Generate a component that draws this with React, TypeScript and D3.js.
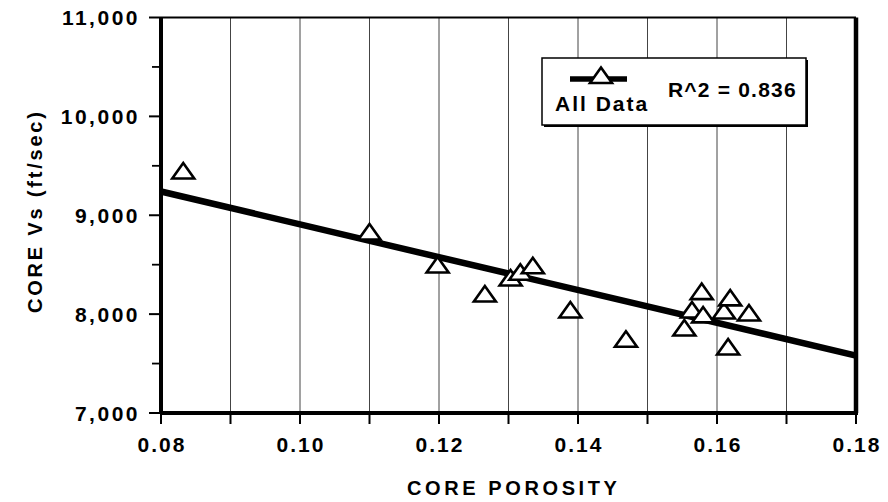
import React from "react";
import * as d3 from "d3";

const porosity = [
  0.0832, 0.11, 0.1198, 0.1266, 0.1303, 0.1317, 0.1335, 0.1389, 0.1469,
  0.1553, 0.1564, 0.1578, 0.158, 0.161, 0.1616, 0.1619, 0.1646,
];
const vs = [
  9448, 8831, 8497, 8204, 8366, 8424, 8490, 8042, 7746, 7860, 8042, 8228,
  7992, 8032, 7668, 8164, 8012,
];
const fitX = [0.08, 0.18];
const fitY = [9240, 7580];
const xTickValues = [0.08, 0.09, 0.1, 0.11, 0.12, 0.13, 0.14, 0.15, 0.16, 0.17, 0.18];
const xLabelValues = [0.08, 0.1, 0.12, 0.14, 0.16, 0.18];
const yMajor = [7000, 8000, 9000, 10000, 11000];
const yMinor = [7500, 8500, 9500, 10500];
const legendLabel = "All Data";
const r2Label = "R^2 = 0.836";

const W = 888;
const H = 502;
const FONT = "'Liberation Sans', Arial, Helvetica, sans-serif";

const tri = "M0,-8 L11,7.5 L-11,7.5 Z";

export default function App() {
  const x = d3.scaleLinear().domain([0.08, 0.18]).range([161, 856]);
  const y = d3.scaleLinear().domain([7000, 11000]).range([413, 17.5]);
  const [x0, x1] = x.range();
  const [yb, yt] = y.range();

  const points = porosity.map((p, i) => ({ p, v: vs[i] }));
  const line = d3
    .line<number>()
    .x((d) => x(d))
    .y((_, i) => y(fitY[i]));

  const fmtY = d3.format(",");
  const fmtX = d3.format(".2f");

  // legend box
  const lg = { left: 542, top: 58, right: 806, bottom: 125 };

  return (
    <svg
      width={W}
      height={H}
      style={{ position: "absolute", left: 0, top: 0, background: "#fff" }}
      fontFamily={FONT}
      fontWeight="bold"
    >
      {/* vertical grid */}
      {xTickValues.slice(1, -1).map((t) => (
        <line
          key={"g" + t}
          x1={x(t)}
          x2={x(t)}
          y1={yb}
          y2={yt}
          stroke="#444"
          strokeWidth={1}
        />
      ))}

      {/* frame */}
      <line x1={x0} x2={x1} y1={yt} y2={yt} stroke="#000" strokeWidth={2} />
      <line x1={x0 - 1} x2={x1 + 2} y1={yb} y2={yb} stroke="#000" strokeWidth={4} />
      <line x1={x0} x2={x0} y1={yt} y2={yb} stroke="#000" strokeWidth={4} />
      <line x1={x1} x2={x1} y1={yt} y2={yb} stroke="#000" strokeWidth={4.5} />

      {/* y ticks */}
      {yMajor.map((t) => (
        <g key={"ym" + t}>
          <line x1={x0 - 12} x2={x0} y1={y(t)} y2={y(t)} stroke="#000" strokeWidth={2} />
          <text
            x={140}
            y={y(t)}
            dy="0.36em"
            textAnchor="end"
            fontSize={21}
            letterSpacing={2.5}
          >
            {fmtY(t)}
          </text>
        </g>
      ))}
      {yMinor.map((t) => (
        <line key={"yn" + t} x1={x0 - 9} x2={x0} y1={y(t)} y2={y(t)} stroke="#000" strokeWidth={1.8} />
      ))}

      {/* x ticks */}
      {xTickValues.map((t) => (
        <line key={"xt" + t} x1={x(t)} x2={x(t)} y1={yb} y2={yb + 11} stroke="#000" strokeWidth={2} />
      ))}
      {xLabelValues.map((t) => (
        <text
          key={"xl" + t}
          x={x(t)}
          dx={1}
          y={452}
          textAnchor="middle"
          fontSize={21}
          letterSpacing={2}
        >
          {fmtX(t)}
        </text>
      ))}

      {/* axis titles */}
      <text x={407} y={495} fontSize={20} letterSpacing={3.6}>
        CORE POROSITY
      </text>
      <text
        transform="translate(41.5,313) rotate(-90)"
        fontSize={20}
        letterSpacing={2.8}
      >
        CORE Vs (ft/sec)
      </text>

      {/* fit line */}
      <path d={line(fitX) ?? ""} fill="none" stroke="#000" strokeWidth={6.5} />

      {/* points */}
      {points.map((d, i) => (
        <path
          key={"p" + i}
          d={tri}
          transform={`translate(${x(d.p)},${y(d.v)})`}
          fill="#fff"
          stroke="#000"
          strokeWidth={2.6}
        />
      ))}

      {/* legend */}
      <rect
        x={lg.left + 2}
        y={lg.top + 2}
        width={lg.right - lg.left}
        height={lg.bottom - lg.top}
        fill="#000"
      />
      <rect
        x={lg.left}
        y={lg.top}
        width={lg.right - lg.left}
        height={lg.bottom - lg.top}
        fill="#fff"
        stroke="#000"
        strokeWidth={1.5}
      />
      <line x1={570} x2={627} y1={79} y2={79} stroke="#000" strokeWidth={5.5} />
      <path d={tri} transform="translate(601,75.5)" fill="#fff" stroke="#000" strokeWidth={2.6} />
      <text x={555} y={111} fontSize={21} letterSpacing={2}>
        {legendLabel}
      </text>
      <text x={668} y={97} fontSize={21} letterSpacing={1.2}>
        {r2Label}
      </text>
    </svg>
  );
}
